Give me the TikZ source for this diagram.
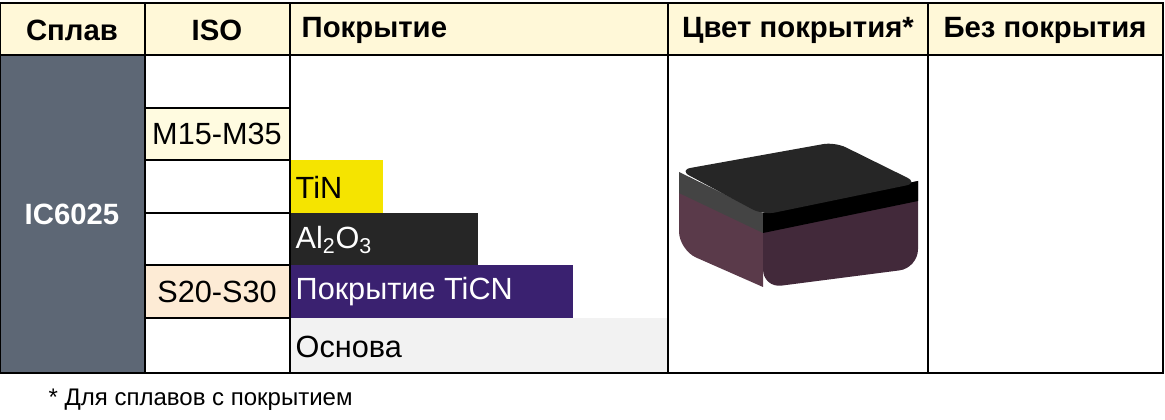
\documentclass[tikz,border=0pt]{standalone}
\usepackage{fontspec}
\setmainfont{Liberation Sans}
\definecolor{headfill}{HTML}{FFF8D8}
\definecolor{alloyfill}{HTML}{5D6775}
\definecolor{mfill}{HTML}{FFFBE0}
\definecolor{sfill}{HTML}{FDEBD5}
\definecolor{tinfill}{HTML}{F5E400}
\definecolor{alfill}{HTML}{262626}
\definecolor{ticnfill}{HTML}{3A2170}
\definecolor{basefill}{HTML}{F2F2F2}
\definecolor{sideleft}{HTML}{5A3A4A}
\definecolor{sideright}{HTML}{42293A}
\definecolor{bandleft}{HTML}{444444}
\tikzset{
  grid/.style={black,line width=1.5pt},
  headtext/.style={text=black,font=\fontsize{22}{24}\selectfont\bfseries},
  celltext/.style={text=black,font=\fontsize{23}{25}\selectfont},
}
\begin{document}
\begin{tikzpicture}[x=0.75pt,y=-0.75pt]
\useasboundingbox (0,0) rectangle (1165,420);

% fills:
\fill[headfill] (0,3) rectangle (1163,55);
\fill[alloyfill] (0,55) rectangle (145,373);
\fill[mfill] (145,108) rectangle (290,160);
\fill[sfill] (145,265) rectangle (290,318);
\fill[tinfill] (290,160) rectangle (383,213);
\fill[alfill] (290,213) rectangle (478,265);
\fill[ticnfill] (290,265) rectangle (573,318);
\fill[basefill] (290,318) rectangle (668,373);

% grid:
\draw[grid] (0,3) rectangle (1163,373);
\draw[grid] (0,55) -- (1163,55);
\foreach \x in {145,290,668,928} \draw[grid] (\x,3) -- (\x,373);
\foreach \y in {108,160,213,265,318} \draw[grid] (145,\y) -- (290,\y);

% insert:
\fill[sideleft] (679,174) -- (763,215) -- (763,287) [rounded corners=14] -- (679,250) [sharp corners] -- cycle;
\fill[sideright] (763,215) -- (918,181) [rounded corners=14] -- (918,268) -- (763,288) [sharp corners] -- cycle;
\fill[bandleft] (679,172) -- (763,213) -- (763,233) -- (679,193) -- cycle;
\fill[black] (763,213) -- (918,181) -- (918,201) -- (763,233) -- cycle;
\fill[alfill,rounded corners=9] (679,170) -- (835,142) -- (918,183) -- (763,215) -- cycle;

% texts:
\node[headtext] (hAlloy) at (72,30) {Сплав};
\node[headtext] (hIso) at (217,30) {ISO};
\node[headtext,anchor=west] (hCoat) at (297,30) {Покрытие};
\node[headtext] (hColor) at (798,30) {Цвет покрытия*};
\node[headtext] (hBare) at (1045,30) {Без покрытия};
\node[headtext,text=white] (alloy) at (72,214) {IC6025};
\node[celltext] (isoM) at (217,134) {M15-M35};
\node[celltext] (isoS) at (217,292) {S20-S30};
\node[celltext,anchor=west] (tin) at (291,187) {TiN};
\node[celltext,anchor=west,text=white] (al) at (291,240) {Al\textsubscript{2}O\textsubscript{3}};
\node[celltext,anchor=west,text=white] (ticn) at (291,292) {Покрытие TiCN};
\node[celltext,anchor=west] (base) at (291,347) {Основа};
\node[text=black,anchor=west,font=\fontsize{18}{20}\selectfont] (note) at (44,400) {* Для сплавов с покрытием};

\end{tikzpicture}
\end{document}
